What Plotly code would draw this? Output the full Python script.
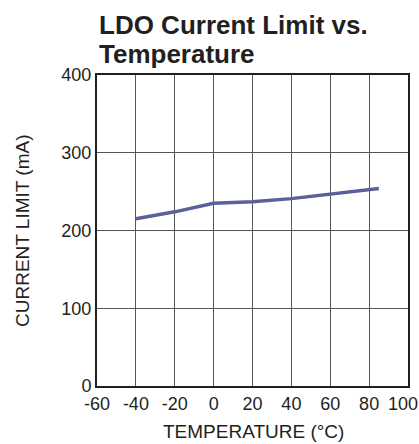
import plotly.graph_objects as go

temperature = [-40, -20, 0, 20, 40, 60, 80, 85]
current_limit = [215, 224, 235, 237, 241, 247, 252, 254]

x_ticks = [-60, -40, -20, 0, 20, 40, 60, 80, 100]
x_ticktext = ["-60", "-40", "-20", "0", "20", "40", "60", "80", "100"]
y_ticks = [0, 100, 200, 300, 400]

FONT = "Liberation Sans, Arial, sans-serif"
TXT = "#231f20"

W, H = 419, 444
L, R, T, B = 97, 11, 75, 58
PW, PH = W - L - R, H - T - B

fig = go.Figure()
fig.add_trace(go.Scatter(
    x=temperature, y=current_limit, mode="lines",
    line=dict(color="#5c6096", width=3.5),
    showlegend=False, hoverinfo="skip",
))

def px_x(px):
    return (px - L) / PW

def px_y(py):
    return (H - B - py) / PH

annos = [
    dict(text="<b>LDO Current Limit vs.</b>", x=px_x(97), y=px_y(42), xanchor="left", yanchor="bottom",
         font=dict(family=FONT, size=26, color=TXT)),
    dict(text="<b>Temperature</b>", x=px_x(97), y=px_y(71), xanchor="left", yanchor="bottom",
         font=dict(family=FONT, size=26, color=TXT)),
    dict(text="TEMPERATURE (°C)", x=px_x(253), y=px_y(431), xanchor="center", yanchor="middle",
         font=dict(family=FONT, size=19, color=TXT)),
    dict(text="CURRENT LIMIT (mA)", x=px_x(22), y=px_y(231), xanchor="center", yanchor="middle",
         textangle=-90, font=dict(family=FONT, size=19, color=TXT)),
]
for a in annos:
    a.update(xref="paper", yref="paper", showarrow=False)

# last x tick label sits slightly inward so it stays inside the picture
annos.append(dict(
    text=x_ticktext[-1], x=x_ticks[-1], xref="x", xshift=-5,
    y=px_y(404), yref="paper", xanchor="center", yanchor="middle", showarrow=False,
    font=dict(family=FONT, size=18, color=TXT),
))

fig.update_layout(
    width=W, height=H,
    margin=dict(l=L, r=R, t=T, b=B),
    paper_bgcolor="white", plot_bgcolor="white",
    font=dict(family=FONT, color=TXT),
    annotations=annos,
)
fig.update_xaxes(
    range=[-60, 100], tickvals=x_ticks[:-1], ticktext=x_ticktext[:-1],
    showgrid=True, gridcolor="#555555", gridwidth=1,
    showline=True, linecolor="#231f20", linewidth=2, mirror=True,
    ticks="", zeroline=False, automargin=False,
    tickfont=dict(family=FONT, size=18, color=TXT),
)
fig.update_yaxes(
    range=[0, 400], tickvals=y_ticks, ticktext=[str(v) for v in y_ticks],
    showgrid=True, gridcolor="#555555", gridwidth=1,
    showline=True, linecolor="#231f20", linewidth=2, mirror=True,
    ticks="", zeroline=False, automargin=False,
    tickfont=dict(family=FONT, size=18, color=TXT),
)

fig.write_html(
    "out.html",
    config={"displayModeBar": False},
    post_script="document.body.style.margin='0';document.body.style.overflow='hidden';",
)
